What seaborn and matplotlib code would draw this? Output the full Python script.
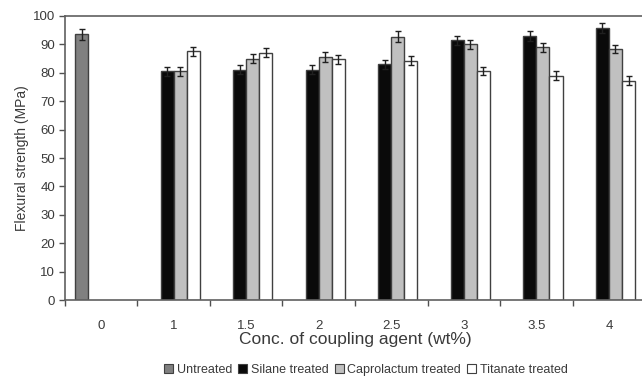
import numpy as np
import pandas as pd
import matplotlib
matplotlib.use("Agg")
import matplotlib.pyplot as plt
import seaborn as sns

# ---------------------------------------------------------
# DATA
# ---------------------------------------------------------
conc_labels = ["0", "1", "1.5", "2", "2.5", "3", "3.5", "4"]
treatments = ["Untreated", "Silane treated", "Caprolactum treated", "Titanate treated"]

untreated_conc = ["0"]
untreated_val = [93.5]
untreated_err = [2.0]

treated_conc = ["1", "1.5", "2", "2.5", "3", "3.5", "4"]
silane_val = [80.5, 81.0, 81.0, 83.0, 91.5, 93.0, 95.7]
silane_err = [1.6, 1.6, 1.6, 1.6, 1.6, 1.7, 1.8]
capro_val = [80.5, 85.0, 85.5, 92.7, 90.0, 89.0, 88.4]
capro_err = [1.6, 1.6, 1.7, 1.9, 1.6, 1.6, 1.5]
titan_val = [87.5, 87.0, 84.7, 84.3, 80.6, 79.0, 77.2]
titan_err = [1.7, 1.6, 1.5, 1.5, 1.4, 1.5, 1.5]

colors = ["#808080", "#0a0a0a", "#c0c0c0", "#ffffff"]

rows = []
for c, v, e in zip(untreated_conc, untreated_val, untreated_err):
    rows.append((c, "Untreated", v, e))
for name, vals, errs in [("Silane treated", silane_val, silane_err),
                         ("Caprolactum treated", capro_val, capro_err),
                         ("Titanate treated", titan_val, titan_err)]:
    for c, v, e in zip(treated_conc, vals, errs):
        rows.append((c, name, v, e))
df = pd.DataFrame(rows, columns=["conc", "treatment", "value", "err"])

# ---------------------------------------------------------
# PLOT
# ---------------------------------------------------------
sns.set_style("white")
plt.rcParams["font.family"] = ["Liberation Sans", "DejaVu Sans"]

fig = plt.figure(figsize=(6.42, 3.79), dpi=100)
ax = fig.add_axes([0.101, 0.208, 0.904, 0.750])

sns.barplot(data=df, x="conc", y="value", hue="treatment",
            order=conc_labels, hue_order=treatments,
            palette=colors, width=0.72, errorbar=None,
            edgecolor="#404040", linewidth=1.0, ax=ax, legend=False)

# error bars at the bar tops
err_lookup = {(r.treatment, r.conc): r.err for r in df.itertuples()}
for name, cont in zip(treatments, ax.containers):
    for bar in cont:
        h = bar.get_height()
        if np.isnan(h):
            continue
        xc = bar.get_x() + bar.get_width() / 2
        cat = conc_labels[int(round(xc))]
        e = err_lookup.get((name, cat))
        if e is None:
            continue
        ax.errorbar(xc, h, yerr=e, fmt="none", ecolor="#202020",
                    elinewidth=1.0, capsize=2.5, capthick=1.0, zorder=5)

ax.set_xlim(-0.5, 7.5)
ax.set_ylim(0, 100)
ax.set_yticks(np.arange(0, 101, 10))
ax.set_xticks(np.arange(-0.5, 8, 1.0), minor=True)

txt = "#3a3a3a"
ax.tick_params(axis="x", which="major", length=0, pad=14, labelsize=9.5, labelcolor=txt)
ax.tick_params(axis="x", which="minor", length=4, width=1, color="#505050", direction="out", bottom=True)
ax.tick_params(axis="y", which="major", length=4, width=1, color="#505050", direction="out",
               left=True, labelsize=9.5, labelcolor=txt, pad=3)

for s in ["left", "bottom", "top"]:
    ax.spines[s].set_color("#606060")
    ax.spines[s].set_linewidth(1.2)
ax.spines["right"].set_visible(False)

ax.set_xlabel("Conc. of coupling agent (wt%)", fontsize=12.5, color=txt, labelpad=0)
ax.set_ylabel("Flexural strength (MPa)", fontsize=10, color=txt, labelpad=3)

handles = [plt.Rectangle((0, 0), 1, 1, facecolor=c, edgecolor="#404040", linewidth=0.8)
           for c in colors]
fig.legend(handles, treatments, loc="lower center", bbox_to_anchor=(0.57, -0.022),
           ncol=4, frameon=False, fontsize=9, handlelength=0.7, handleheight=0.7,
           handletextpad=0.3, columnspacing=0.5, labelcolor=txt)

fig.savefig("out.png", dpi=100)
